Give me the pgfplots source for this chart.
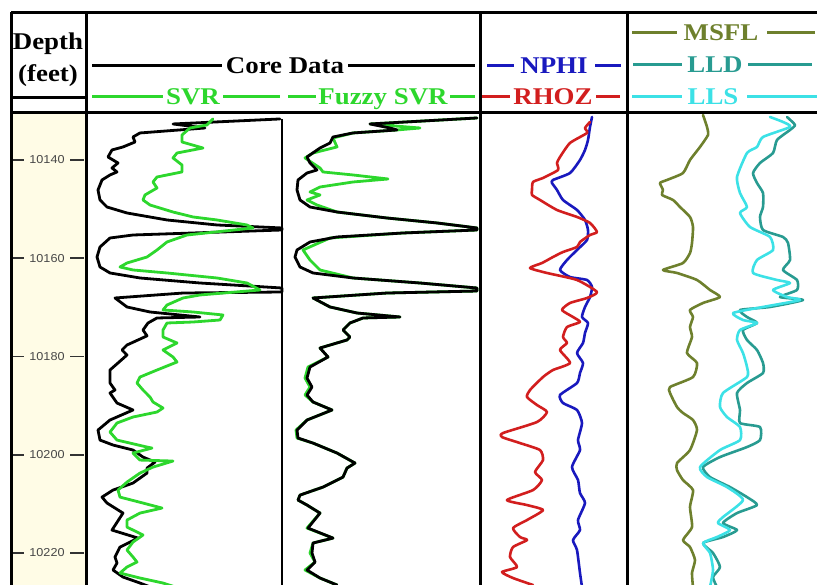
\documentclass[border=0pt]{standalone}
\usepackage{fontspec}
\setmainfont{Liberation Serif}
\newfontfamily\hdr[FakeStretch=1.12]{Liberation Serif}
\newfontfamily\tickfont[FakeStretch=1.1]{Liberation Sans}
\usepackage{pgfplots}
\pgfplotsset{compat=1.18}

\definecolor{svrgreen}{RGB}{45,215,45}
\definecolor{nphiblue}{RGB}{25,25,190}
\definecolor{rhozred}{RGB}{210,30,30}
\definecolor{msflc}{RGB}{110,128,45}
\definecolor{lldc}{RGB}{40,155,145}
\definecolor{llsc}{RGB}{60,225,230}
\definecolor{depthfill}{RGB}{255,252,230}

\begin{document}
\begin{tikzpicture}
\useasboundingbox (0,0) rectangle (817pt,585pt);
% depth column background
\begin{scope}[x=1pt,y=-1pt,yshift=585pt]
  \fill[depthfill] (12,114) rectangle (85,585);
\end{scope}

\begin{axis}[at={(0pt,0pt)},anchor=south west,scale only axis,
  width=817pt,height=471pt,
  xmin=0,xmax=817,ymin=10130.64,ymax=10226.51,y dir=reverse,
  hide axis,clip=true,
  every axis plot/.append style={line join=round,line cap=round,mark=none},
  logcurve/.style={line width=2.6pt,smooth,tension=0.35}]

% depth ticks
\pgfplotsinvokeforeach{10140,10160,10180,10200,10220}{
  \draw[line width=1.7pt,black!80] (axis cs:11,#1) -- (axis cs:24,#1);
  \draw[line width=1.7pt,black!80] (axis cs:70,#1) -- (axis cs:84,#1);
  \node[text=black!72,font=\tickfont\fontsize{11.5}{11.5}\selectfont] at (axis cs:47,#1) {#1};
}

% ---- Core data vs SVR
\addplot[black,line width=2.8pt] coordinates {
(280,10131.65) (173,10132.67) (205,10133.49) (140,10134.50) (133,10135.32)
(135,10136.34) (123,10137.35) (112,10137.96) (108,10139.39) (113,10140.00)
(118,10140.61) (112,10141.63) (117,10142.44) (110,10143.05) (102,10144.07)
(98,10146.11) (100,10148.14) (107,10149.57) (127,10150.79) (167,10152.21)
(217,10153.23) (282,10153.84) (282,10154.25) (133,10155.27) (110,10155.88)
(100,10157.71) (97,10159.75) (100,10161.78) (110,10163.00) (140,10164.02)
(200,10165.04) (282,10166.06) (282,10166.87) (183,10167.08) (115,10168.09)
(127,10169.92) (150,10170.94) (200,10171.96) (157,10172.16) (148,10173.18)
(143,10174.61) (147,10175.80) (127,10177.66) (122,10178.68) (127,10179.70)
(110,10182.75) (110,10185.40) (115,10186.82) (110,10187.43) (117,10189.47)
(133,10190.89) (110,10192.93) (98,10194.97) (100,10197.01) (113,10198.02)
(133,10199.04) (143,10200.47) (155,10201.49) (147,10202.71) (147,10203.73)
(133,10205.76) (113,10207.19) (102,10208.62) (107,10209.83) (123,10211.87)
(112,10215.33) (138,10216.96) (120,10218.79) (115,10220.82) (117,10222.04)
(113,10223.46) (123,10224.89) (140,10226.11) (150,10226.90)
};
\addplot[svrgreen,line width=2.8pt] coordinates {
(213,10131.65) (207,10132.87) (190,10133.49) (182,10134.91) (182,10136.34)
(203,10137.56) (177,10138.58) (173,10139.59) (182,10141.02) (182,10142.44)
(157,10143.46) (153,10144.48) (157,10145.70) (145,10147.12) (143,10148.14)
(150,10149.16) (173,10150.59) (193,10151.60) (217,10152.21) (247,10153.23)
(253,10153.84) (187,10155.27) (167,10156.69) (157,10158.32) (147,10159.75)
(127,10160.97) (120,10161.78) (133,10162.39) (167,10163.00) (217,10164.02)
(247,10165.04) (260,10166.46) (200,10167.48) (183,10168.09) (167,10169.52)
(163,10170.53) (193,10170.94) (223,10171.55) (220,10172.57) (193,10172.98)
(167,10173.18) (163,10174.61) (163,10176.03) (177,10177.25) (163,10178.68)
(173,10180.10) (177,10181.12) (157,10182.75) (140,10184.18) (137,10185.40)
(143,10186.82) (150,10188.25) (153,10189.26) (163,10190.49) (157,10191.30)
(133,10192.32) (117,10193.54) (110,10195.38) (117,10197.01) (147,10198.43)
(152,10198.64) (133,10199.65) (140,10201.08) (173,10201.28) (153,10202.51)
(140,10203.73) (127,10205.56) (118,10207.19) (120,10208.62) (143,10209.83)
(162,10210.85) (140,10211.87) (127,10213.29) (127,10214.72) (143,10216.34)
(133,10217.77) (127,10219.40) (133,10220.82) (137,10221.84) (127,10222.85)
(120,10224.07) (140,10225.09) (163,10226.11) (175,10226.90)
};

% ---- Core data vs Fuzzy SVR
\addplot[svrgreen,line width=2.8pt] coordinates {
(477,10131.45) (370,10132.67) (420,10133.49) (397,10133.89) (353,10134.50)
(333,10135.52) (337,10137.35) (313,10138.58) (305,10139.59) (320,10141.63)
(323,10142.44) (353,10143.05) (388,10143.87) (353,10144.48) (320,10145.50)
(310,10146.51) (320,10147.12) (307,10148.14) (317,10149.16) (337,10150.59)
(387,10151.81) (437,10152.82) (477,10153.84) (477,10154.25) (403,10154.86)
(330,10155.88) (303,10158.32) (310,10160.36) (320,10162.39) (353,10164.02)
(420,10165.04) (477,10166.06) (477,10166.67) (387,10167.08) (313,10168.09)
(330,10169.92) (357,10171.15) (400,10171.96) (363,10172.16) (350,10173.18)
(343,10174.61) (350,10176.03) (347,10176.64) (320,10178.27) (328,10180.10)
(308,10182.14) (305,10184.38) (310,10186.21) (305,10187.84) (313,10189.26)
(332,10190.89) (307,10192.93) (296,10194.97) (297,10196.60) (313,10197.62)
(337,10199.65) (355,10201.69) (347,10202.71) (343,10204.54) (323,10206.58)
(300,10208.21) (298,10209.22) (307,10210.24) (320,10211.87) (307,10214.92)
(333,10216.96) (313,10217.97) (310,10220.00) (315,10221.84) (305,10223.46)
(320,10225.09) (337,10226.51)
};
\addplot[black,line width=2.8pt] coordinates {
(477,10131.45) (370,10132.67) (390,10133.49) (397,10133.89) (353,10134.50)
(333,10135.32) (330,10136.54) (320,10137.56) (307,10139.39) (310,10140.61)
(317,10142.04) (307,10142.65) (298,10144.07) (297,10146.11) (300,10148.14)
(310,10149.57) (337,10150.59) (387,10151.81) (437,10152.82) (477,10153.84)
(477,10154.25) (403,10154.86) (337,10155.67) (310,10156.69) (297,10158.32)
(295,10159.75) (300,10161.78) (313,10163.00) (353,10164.02) (420,10165.04)
(477,10166.06) (477,10166.67) (387,10167.08) (313,10168.09) (330,10169.92)
(357,10171.15) (400,10171.96) (363,10172.16) (350,10173.18) (343,10174.61)
(350,10176.03) (347,10176.64) (320,10178.27) (328,10180.10) (310,10182.14)
(307,10184.38) (312,10186.21) (307,10187.84) (313,10189.26) (332,10190.89)
(307,10192.93) (297,10194.97) (298,10196.60) (313,10197.62) (337,10199.65)
(355,10201.69) (347,10202.71) (343,10204.54) (323,10206.58) (300,10208.21)
(298,10209.22) (307,10210.24) (320,10211.87) (308,10214.92) (333,10216.96)
(313,10217.97) (312,10220.00) (315,10221.84) (307,10223.46) (320,10225.09)
(337,10226.51)
};

% ---- NPHI and RHOZ
\addplot[nphiblue,logcurve] coordinates {
(592,10131.25) (590,10133.28) (588,10135.93) (585,10137.96) (580,10140.00)
(570,10142.65) (553,10144.07) (552,10144.68) (557,10146.11) (563,10148.14)
(577,10150.18) (585,10152.21) (588,10154.25) (587,10156.29) (577,10158.32)
(567,10160.36) (560,10162.39) (570,10163.82) (587,10164.43) (592,10165.85)
(590,10167.89) (585,10169.92) (582,10171.96) (588,10173.18) (585,10175.22)
(583,10177.25) (577,10179.29) (583,10181.32) (580,10183.36) (577,10185.40)
(560,10187.84) (563,10189.47) (577,10190.89) (582,10193.54) (578,10197.01)
(580,10199.04) (572,10202.51) (578,10205.15) (580,10207.80) (585,10209.83)
(578,10213.29) (580,10215.33) (573,10217.36) (577,10219.40) (580,10224.07)
(582,10226.90)
};
\addplot[rhozred,logcurve] coordinates {
(590,10132.26) (585,10133.49) (587,10134.50) (570,10136.54) (560,10139.39)
(557,10140.61) (558,10142.04) (543,10143.66) (533,10144.48) (532,10146.11)
(532,10147.12) (540,10148.14) (557,10150.18) (577,10151.60) (590,10152.82)
(597,10154.66) (590,10155.27) (580,10156.69) (577,10157.71) (563,10158.73)
(553,10159.75) (542,10160.97) (530,10161.99) (547,10163.00) (577,10164.43)
(597,10166.87) (587,10168.09) (570,10169.11) (562,10170.53) (573,10171.96)
(580,10172.98) (567,10174.00) (563,10176.03) (567,10177.25) (560,10178.68)
(570,10181.32) (553,10182.75) (543,10184.18) (530,10186.82) (527,10188.25)
(537,10189.88) (547,10191.30) (537,10193.34) (503,10195.58) (502,10196.40)
(520,10197.62) (540,10199.04) (543,10201.08) (535,10203.52) (542,10205.15)
(533,10207.19) (507,10209.22) (527,10210.24) (543,10211.26) (527,10213.29)
(513,10214.92) (520,10216.75) (527,10217.36) (513,10218.79) (510,10220.82)
(517,10222.85) (502,10223.87) (513,10225.09) (533,10226.51)
};

% ---- Resistivity: MSFL, LLD, LLS
\addplot[msflc,logcurve] coordinates {
(703,10130.84) (707,10133.28) (708,10134.91) (700,10137.35) (690,10140.00)
(683,10142.65) (667,10144.07) (660,10144.68) (663,10146.11) (662,10147.12)
(673,10148.14) (680,10149.57) (690,10151.60) (693,10153.64) (692,10156.90)
(690,10158.93) (683,10160.97) (663,10162.39) (677,10163.00) (697,10164.43)
(710,10166.46) (720,10167.89) (703,10169.11) (690,10170.53) (693,10171.96)
(690,10174.00) (692,10176.03) (687,10179.29) (697,10181.32) (693,10184.18)
(670,10186.21) (670,10187.43) (677,10190.28) (683,10191.50) (693,10192.93)
(697,10194.97) (690,10199.04) (677,10201.69) (677,10203.12) (683,10205.15)
(693,10207.19) (690,10210.65) (692,10214.72) (683,10217.36) (690,10218.79)
(695,10221.43) (692,10224.07) (693,10226.90)
};
\addplot[lldc,logcurve] coordinates {
(787,10131.25) (795,10132.87) (790,10133.89) (777,10135.93) (773,10138.58)
(760,10140.61) (753,10142.65) (757,10144.68) (763,10146.72) (763,10149.57)
(760,10151.60) (763,10154.25) (783,10155.67) (788,10156.90) (790,10160.36)
(783,10162.39) (797,10164.43) (797,10166.46) (780,10167.89) (803,10168.50)
(770,10169.92) (740,10170.53) (747,10171.96) (757,10173.18) (743,10174.61)
(747,10176.64) (757,10178.68) (763,10181.32) (763,10183.36) (747,10185.40)
(737,10187.43) (740,10190.89) (740,10193.54) (760,10194.36) (760,10197.01)
(747,10198.43) (720,10200.47) (703,10202.51) (710,10204.54) (730,10206.58)
(747,10208.62) (757,10210.24) (737,10211.87) (723,10213.90) (737,10215.33)
(723,10216.75) (703,10217.97) (713,10220.00) (720,10222.85) (713,10224.89)
(717,10226.90)
};
\addplot[llsc,logcurve] coordinates {
(770,10131.25) (783,10132.26) (790,10133.28) (763,10135.32) (757,10137.35)
(747,10138.58) (737,10143.46) (740,10146.72) (747,10149.57) (740,10150.79)
(750,10153.64) (770,10155.67) (773,10158.32) (757,10160.36) (753,10163.00)
(777,10164.43) (790,10165.04) (773,10166.46) (787,10167.89) (800,10168.50)
(763,10169.92) (733,10171.15) (743,10172.57) (757,10173.18) (740,10174.61)
(737,10176.64) (743,10179.29) (747,10182.14) (747,10184.18) (723,10187.43)
(720,10190.28) (727,10192.32) (740,10194.36) (740,10197.01) (720,10199.04)
(700,10202.51) (707,10204.54) (727,10206.58) (743,10209.22) (723,10212.68)
(718,10213.90) (730,10215.33) (717,10216.75) (703,10217.97) (710,10220.00)
(713,10223.46) (710,10226.90)
};
\end{axis}

% track frames and header
\begin{scope}[x=1pt,y=-1pt,yshift=585pt]
  \draw[line width=2pt] (282,119) -- (282,586);
  \draw[line width=3pt] (11,13) -- (818,13);
  \draw[line width=3pt] (10,113) -- (818,113);
  \draw[line width=3pt] (11,98) -- (86,98);
  \foreach \xx in {11,86,480,627} \draw[line width=3pt] (\xx,12) -- (\xx,586);

  \begin{scope}[every node/.style={anchor=base,inner sep=0pt,font=\hdr\bfseries\fontsize{24}{24}\selectfont}]
    \node at (48,50) {Depth};
    \node at (48,82) {(feet)};
    \node at (285,74) {Core Data};
    \node[text=svrgreen] at (193,105) {SVR};
    \node[text=svrgreen] at (383,105) {Fuzzy SVR};
    \node[text=nphiblue] at (554,74) {NPHI};
    \node[text=rhozred] at (553,105) {RHOZ};
    \node[text=msflc] at (721,41) {MSFL};
    \node[text=lldc] at (715,73) {LLD};
    \node[text=llsc] at (713,105) {LLS};
  \end{scope}

  \draw[line width=3pt] (92,66) -- (222,66) (348,66) -- (475,66);
  \draw[line width=3pt,svrgreen] (92,97) -- (163,97) (223,97) -- (280,97)
     (288,97) -- (316,97) (450,97) -- (475,97);
  \draw[line width=3pt,nphiblue] (487,66) -- (514,66) (595,66) -- (621,66);
  \draw[line width=3pt,rhozred] (482,97) -- (510,97) (596,97) -- (620,97);
  \draw[line width=3pt,msflc] (632,33) -- (677,33) (767,33) -- (815,33);
  \draw[line width=3pt,lldc] (633,65) -- (682,65) (748,65) -- (812,65);
  \draw[line width=3pt,llsc] (632,97) -- (682,97) (747,97) -- (817,97);
\end{scope}
\end{tikzpicture}
\end{document}
